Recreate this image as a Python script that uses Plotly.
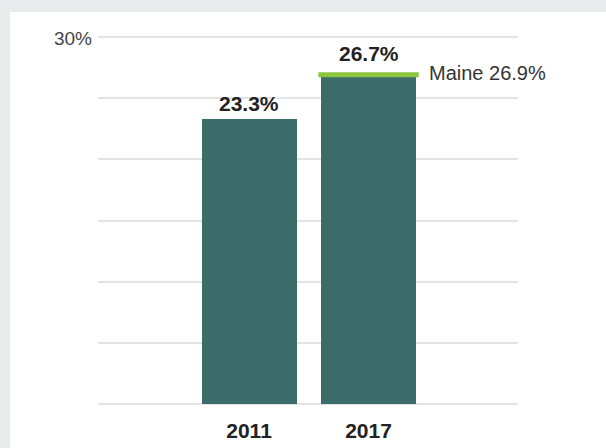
import plotly.graph_objects as go

years = ["2011", "2017"]
values = [23.3, 26.7]
maine_label = "Maine"
maine_value = 26.9
y_ticks = [0, 5, 10, 15, 20, 25, 30]
y_ticktext = ["", "", "", "", "", "", "30%"]

BAR_COLOR = "#3b6c6a"
MAINE_COLOR = "#8cc63f"
FONT = "Liberation Sans, Arial, sans-serif"

xs = list(range(len(years)))
bar_w = 0.795
line_half = 0.42

fig = go.Figure()
fig.add_trace(go.Bar(x=xs, y=values, width=bar_w, marker_color=BAR_COLOR,
                     marker_line_width=0, hoverinfo="skip"))

last = xs[-1]
fig.add_trace(go.Scatter(x=[last - line_half, last + line_half], y=[maine_value, maine_value],
                         mode="lines", line=dict(color=MAINE_COLOR, width=5), hoverinfo="skip"))

for x, v in zip(xs, values):
    top = max(v, maine_value) if x == last else v
    fig.add_annotation(x=x, y=top, text=f"<b>{v:.1f}%</b>", showarrow=False,
                       yanchor="bottom", yshift=2 if x != last else 8,
                       font=dict(family=FONT, size=21, color="#222222"))

fig.add_annotation(x=last + 0.49, y=maine_value, text=f"{maine_label} {maine_value:.1f}%",
                   showarrow=False, xanchor="left", yanchor="middle", yshift=2,
                   font=dict(family=FONT, size=20, color="#333333"))

# white panel
fig.add_shape(type="rect", xref="paper", yref="paper", x0=-0.2095, x1=1.3, y0=-0.2, y1=1.056,
              fillcolor="white", line_width=0, layer="below")

fig.update_layout(
    width=606, height=448,
    margin=dict(l=98, r=88, t=33, b=40),
    paper_bgcolor="#e8ecec",
    plot_bgcolor="white",
    showlegend=False,
    font=dict(family=FONT),
    bargap=0,
)
fig.update_xaxes(range=[-1.264, 2.251], tickvals=xs, ticktext=[f"<b>{y}</b>" for y in years],
                 tickfont=dict(family=FONT, size=21, color="#222222"),
                 showgrid=False, zeroline=False, showline=False, automargin=False,
                 ticks="outside", ticklen=4, tickcolor="rgba(0,0,0,0)")
fig.update_yaxes(range=[-0.3, 30.3], tickvals=y_ticks, ticktext=y_ticktext,
                 tickfont=dict(family=FONT, size=19, color="#444444"),
                 showgrid=True, gridcolor="#e3e3e3", gridwidth=2, automargin=False,
                 zeroline=True, zerolinecolor="#e3e3e3", zerolinewidth=2,
                 showline=False, ticks="", ticklabelstandoff=5, ticklabelshift=2)

fig.write_html("out.html", config={"displayModeBar": False},
               post_script="document.body.style.margin='0';document.body.style.overflow='hidden';")
